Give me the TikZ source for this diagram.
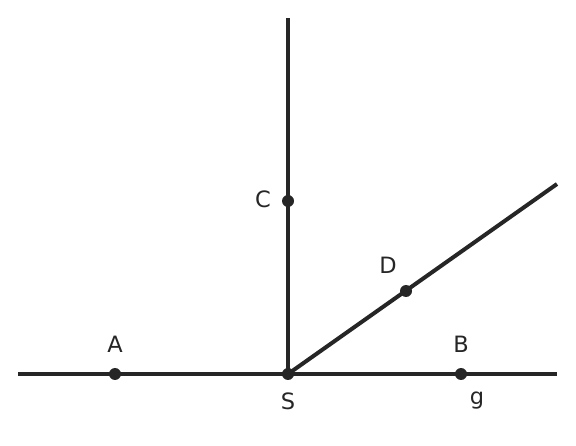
\documentclass[tikz,border=0pt]{standalone}
\usepackage{fontspec}
\setmainfont{DejaVu Sans}
\begin{document}
\begin{tikzpicture}[x=1pt,y=-1pt,
  ln/.style={line width=4pt,draw=ink},
  pt/.style={circle,fill=ink,inner sep=0pt,minimum size=12pt},
  lab/.style={text=ink,font=\fontsize{22.5}{26}\selectfont,inner sep=0pt}]
\definecolor{ink}{HTML}{262626}
\useasboundingbox (0,0) rectangle (576,446);
\coordinate (L) at (18,374);
\coordinate (R) at (557,374);
\coordinate (T) at (288,18);
\coordinate (E) at (557,184);
\node[pt] (S) at (288,374) {};
\draw[ln] (L) -- (R);
\draw[ln] (S.center) -- (T);
\draw[ln] (S.center) -- (E);
\node[pt] (A) at (115,374) {};
\node[pt] (B) at (461,374) {};
\node[pt] (C) at (288,201) {};
\node[pt] (D) at (406,291) {};
\node[lab] (lA) at (115,344) {A};
\node[lab] (lB) at (461,344) {B};
\node[lab] (lC) at (263,199) {C};
\node[lab] (lD) at (388,265) {D};
\node[lab] (lS) at (288,401) {S};
\node[lab,anchor=base] (lg) at (477,405) {g};
\end{tikzpicture}
\end{document}
